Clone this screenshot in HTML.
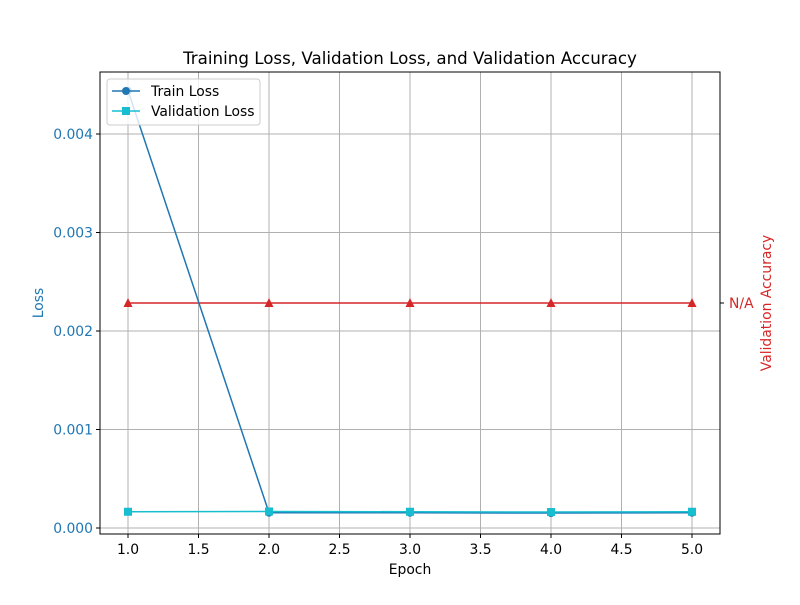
<!DOCTYPE html>
<html><head><meta charset="utf-8"><style>body{margin:0;background:#fff}svg{font-family:"DejaVu Sans","Liberation Sans",sans-serif}</style></head>
<body>
<svg id="c" width="800" height="600"></svg>
<script>
const epochs=[1,2,3,4,5];
const trainLoss=[0.00444,0.000155,0.000155,0.000152,0.000155];
const valLoss=[0.000165,0.000168,0.000165,0.000162,0.000165];
const valAcc=["N/A","N/A","N/A","N/A","N/A"];
const xTicks=[1.0,1.5,2.0,2.5,3.0,3.5,4.0,4.5,5.0];
const yTicks=[0,0.001,0.002,0.003,0.004];
const ns="http://www.w3.org/2000/svg",svg=document.getElementById('c');
const L=100,R=720,T=72,B=534;
const X=v=>128+(v-1)*141;
const Y=v=>528-v*98500;
const YR=v=>303;
function el(t,a,p){const e=document.createElementNS(ns,t);for(const k in a)e.setAttribute(k,a[k]);(p||svg).appendChild(e);return e;}
let t=el('text',{x:410,y:64,'text-anchor':'middle','font-size':16.7});t.textContent='Training Loss, Validation Loss, and Validation Accuracy';

xTicks.forEach(v=>{let g=el('line',{x1:X(v),x2:X(v),y1:T,y2:B,stroke:'#b0b0b0','stroke-width':1});
el('line',{x1:X(v),x2:X(v),y1:B,y2:B+4,stroke:'#000'});
let s=el('text',{x:X(v),y:B+20,'text-anchor':'middle','font-size':13.9});s.textContent=v.toFixed(1);});
yTicks.forEach(v=>{let g=el('line',{x1:L,x2:R,y1:Y(v),y2:Y(v),stroke:'#b0b0b0','stroke-width':1});
el('line',{x1:L-4,x2:L,y1:Y(v),y2:Y(v),stroke:'#000'});
let s=el('text',{x:L-7,y:Y(v)+5,'text-anchor':'end','font-size':13.9,fill:'#1f77b4'});s.textContent=v.toFixed(3);});
el('line',{x1:R,x2:R+4,y1:YR('N/A'),y2:YR('N/A'),stroke:'#000'});
let rt=el('text',{x:R+9,y:YR('N/A')+5,'font-size':13.9,fill:'#d62728'});rt.textContent='N/A';
function series(vals,fy,color,marker,name){
 let p=el('polyline',{points:vals.map((v,i)=>X(epochs[i])+','+fy(v)).join(' '),fill:'none',stroke:color,'stroke-width':1.5});
 
 vals.forEach((v,i)=>{const x=X(epochs[i]),y=fy(v);let m;
  if(marker=='o')m=el('circle',{cx:x,cy:y,r:4,fill:color});
  else if(marker=='s')m=el('rect',{x:x-4,y:y-4,width:8,height:8,fill:color});
  else m=el('polygon',{points:`${x},${y-5} ${x+4.5},${y+4} ${x-4.5},${y+4}`,fill:color});
  });
}
series(valAcc,YR,'#d62728','^','val-accuracy');
series(trainLoss,Y,'#1f77b4','o','train-loss');
series(valLoss,Y,'#17becf','s','val-loss');
let f=el('rect',{x:L,y:T,width:R-L,height:B-T,fill:'none',stroke:'#000','stroke-width':1});
let xl=el('text',{x:410,y:574,'text-anchor':'middle','font-size':13.9});xl.textContent='Epoch';
let yl=el('text',{x:43,y:303,'text-anchor':'middle','font-size':13.9,fill:'#1f77b4',transform:'rotate(-90 43 303)'});yl.textContent='Loss';
let y2=el('text',{x:771,y:303,'text-anchor':'middle','font-size':13.9,fill:'#d62728',transform:'rotate(-90 771 303)'});y2.textContent='Validation Accuracy';
const lg=el('g',{});
el('rect',{x:107,y:79,width:153,height:46,rx:3,fill:'rgba(255,255,255,0.8)',stroke:'#ccc'},lg);
[['Train Loss','#1f77b4','o',91],['Validation Loss','#17becf','s',111]].forEach(([n,c,m,y])=>{
 el('line',{x1:112,x2:140,y1:y,y2:y,stroke:c,'stroke-width':1.5},lg);
 if(m=='o')el('circle',{cx:126,cy:y,r:4,fill:c},lg);else el('rect',{x:122,y:y-4,width:8,height:8,fill:c},lg);
 let s=el('text',{x:151,y:y+5,'font-size':13.9},lg);s.textContent=n;});
</script>
</body></html>
